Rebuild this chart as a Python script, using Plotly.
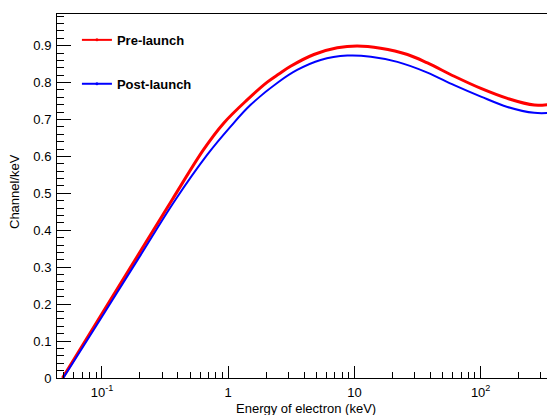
import plotly.graph_objects as go

energy_pre = [0.0487, 0.1, 0.2, 0.359, 0.640, 0.921, 1.413, 2.04, 2.52, 3.12, 4.78, 7.32, 10.5, 16.1, 26.3, 37.9, 61.7, 100.5, 163, 266, 372]
pre_launch = [0.0, 0.174, 0.341, 0.482, 0.619, 0.690, 0.753, 0.801, 0.823, 0.844, 0.876, 0.894, 0.899, 0.893, 0.876, 0.853, 0.817, 0.784, 0.757, 0.739, 0.742]
energy_post = [0.0494, 0.1, 0.2, 0.381, 0.681, 1.04, 1.50, 2.52, 3.52, 5.40, 8.79, 13.5, 21.9, 37.9, 61.7, 100.5, 163, 266, 361]
post_launch = [0.0, 0.166, 0.330, 0.482, 0.604, 0.680, 0.739, 0.802, 0.834, 0.861, 0.873, 0.870, 0.856, 0.827, 0.793, 0.762, 0.734, 0.718, 0.718]

x_tickvals = [0.1, 1, 10, 100]
x_ticktext = ["10<sup>-1</sup>", "1", "10", "10<sup>2</sup>"]
x_minor = [0.05, 0.06, 0.07, 0.08, 0.09, 0.2, 0.3, 0.4, 0.5, 0.6, 0.7, 0.8, 0.9,
           2, 3, 4, 5, 6, 7, 8, 9, 20, 30, 40, 50, 60, 70, 80, 90, 200, 300]
y_tickvals = [0, 0.1, 0.2, 0.3, 0.4, 0.5, 0.6, 0.7, 0.8, 0.9]
y_ticktext = ["0", "0.1", "0.2", "0.3", "0.4", "0.5", "0.6", "0.7", "0.8", "0.9"]

FONT = "Liberation Sans, Arial, sans-serif"

fig = go.Figure()
fig.add_trace(go.Scatter(x=energy_pre, y=pre_launch, mode="lines",
                         line=dict(color="#ff0000", width=3, shape="spline", smoothing=1.0),
                         showlegend=False))
fig.add_trace(go.Scatter(x=energy_post, y=post_launch, mode="lines",
                         line=dict(color="#0000ff", width=2, shape="spline", smoothing=1.0),
                         showlegend=False))
# legend entries
fig.add_trace(go.Scatter(x=[None], y=[None], mode="lines+markers", name="<b>Pre-launch</b>",
                         line=dict(color="#ff0000", width=2), marker=dict(size=3, color="#ff0000"), legendgroup="a"))
fig.add_trace(go.Scatter(x=[None], y=[None], mode="lines+markers", name="<b>Post-launch</b>",
                         line=dict(color="#0000ff", width=2), marker=dict(size=3, color="#0000ff"), legendgroup="b"))

# page body adds an 8px offset; figure sized to fill the 555x415 window
fig.update_layout(
    width=547, height=407,
    margin=dict(l=49, r=0, t=6, b=37),
    plot_bgcolor="white", paper_bgcolor="white",
    font=dict(family=FONT, size=13, color="black"),
    showlegend=True,
    legend=dict(x=0.04, y=0.97, xanchor="left", yanchor="top", bgcolor="rgba(0,0,0,0)",
                font=dict(size=13, family=FONT), tracegroupgap=24, itemwidth=30),
    xaxis=dict(type="log", range=[-1.356, 2.589], showline=True, linecolor="black", linewidth=1, mirror=True,
               showgrid=False, zeroline=False,
               tickmode="array", tickvals=x_tickvals, ticktext=x_ticktext,
               ticks="inside", ticklen=12, tickcolor="black", tickwidth=1, ticklabelstandoff=2,
               minor=dict(tickmode="array", tickvals=x_minor, ticks="inside", ticklen=6, tickcolor="black", tickwidth=1),
               tickfont=dict(size=13)),
    yaxis=dict(range=[0, 0.9856], showline=True, linecolor="black", linewidth=1,
               showgrid=False, zeroline=False,
               tickmode="array", tickvals=y_tickvals, ticktext=y_ticktext,
               ticks="inside", ticklen=14, tickcolor="black", tickwidth=1, ticklabelstandoff=2,
               minor=dict(dtick=0.02, tick0=0, ticks="inside", ticklen=7, tickcolor="black", tickwidth=1),
               tickfont=dict(size=13)),
)
fig.add_annotation(text="Energy of electron (keV)", xref="paper", yref="paper", x=0.5, y=0,
                   yshift=-30, xanchor="center", yanchor="middle", showarrow=False, font=dict(size=13))
fig.add_annotation(text="Channel/keV", xref="paper", yref="paper", x=0, xshift=-42, y=0.511,
                   textangle=-90, xanchor="center", yanchor="middle", showarrow=False, font=dict(size=13))

fig.write_html("out.html")
